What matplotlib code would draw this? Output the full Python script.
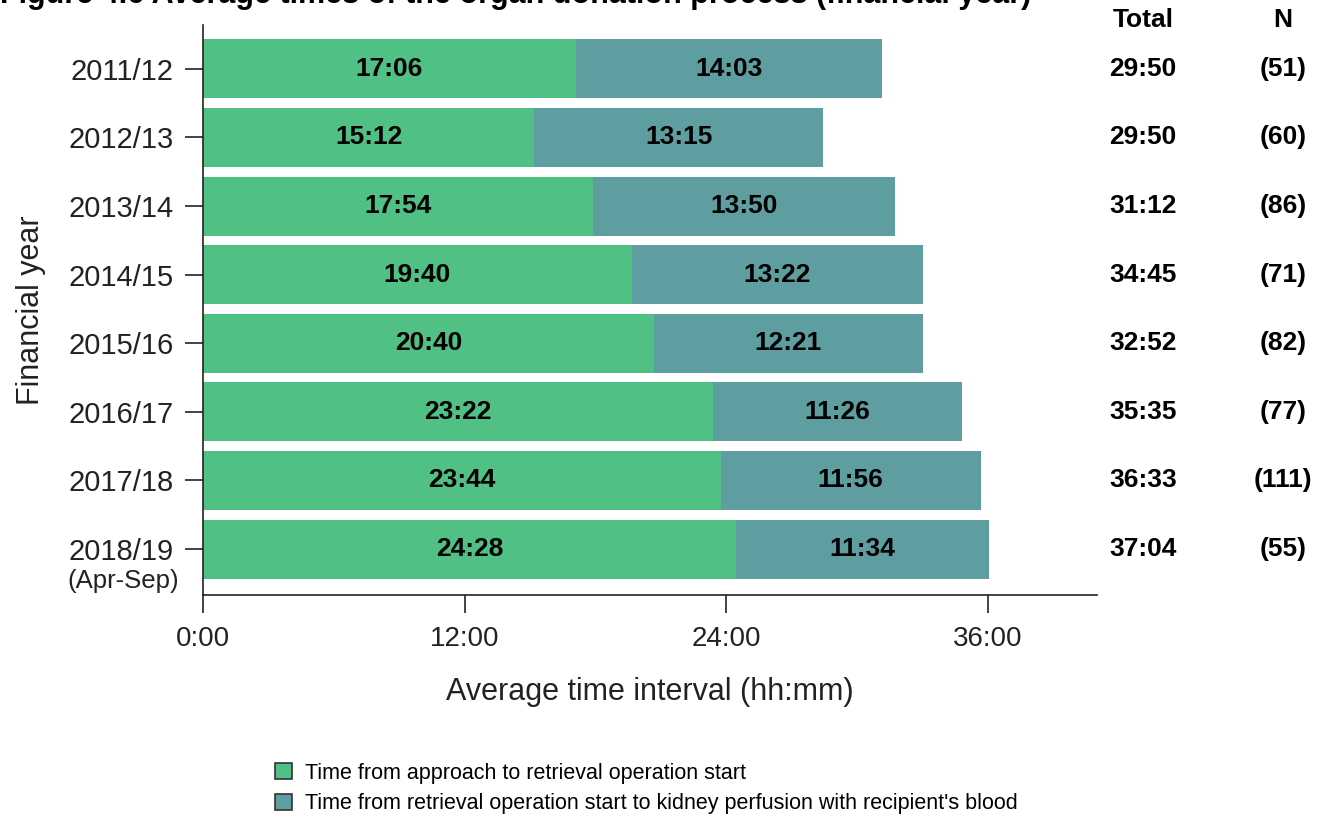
import matplotlib
matplotlib.use('Agg')
import matplotlib.pyplot as plt
from matplotlib.patches import Patch
import numpy as np

# Data (hh:mm)
years = ['2011/12', '2012/13', '2013/14', '2014/15', '2015/16', '2016/17', '2017/18', '2018/19\n(Apr-Sep)']
approach = ['17:06', '15:12', '17:54', '19:40', '20:40', '23:22', '23:44', '24:28']
perfusion = ['14:03', '13:15', '13:50', '13:22', '12:21', '11:26', '11:56', '11:34']
totals = ['29:50', '29:50', '31:12', '34:45', '32:52', '35:35', '36:33', '37:04']
counts = [51, 60, 86, 71, 82, 77, 111, 55]
xticks = [0, 12, 24, 36]

C_GREEN = '#50C084'
C_TEAL = '#5F9EA0'
INK = '#222222'
NARROW = ['Liberation Sans Narrow', 'Liberation Sans', 'DejaVu Sans']
plt.rcParams['font.family'] = ['Liberation Sans', 'DejaVu Sans']


def hours(s):
    h, m = s.split(':')
    return int(h) + int(m) / 60


a = np.array([hours(s) for s in approach])
p = np.array([hours(s) for s in perfusion])
y = np.arange(len(years))

fig = plt.figure(figsize=(13.22, 8.18), dpi=100)
ax = fig.add_axes([203 / 1322, 1 - 595 / 818, 894 / 1322, 570 / 818])

ax.barh(y, a, height=0.86, color=C_GREEN)
ax.barh(y, p, left=a, height=0.86, color=C_TEAL)

for i in range(len(years)):
    ax.text(a[i] / 2, y[i], approach[i], ha='center', va='center',
            fontsize=19, fontweight='bold', family=NARROW)
    ax.text(a[i] + p[i] / 2, y[i], perfusion[i], ha='center', va='center',
            fontsize=19, fontweight='bold', family=NARROW)

# Total and N columns to the right
tr = ax.get_yaxis_transform()
col_kw = dict(transform=tr, ha='center', va='center', fontsize=19,
              fontweight='bold', family=NARROW, clip_on=False)
ax.text(1.0515, -0.72, 'Total', **col_kw)
ax.text(1.208, -0.72, 'N', **col_kw)
for i in range(len(years)):
    ax.text(1.0515, y[i], totals[i], **col_kw)
    ax.text(1.208, y[i], f'({counts[i]})', **col_kw)

ax.set_xlim(0, 41)
ax.set_ylim(7.67, -0.64)
ax.set_xticks(xticks)
ax.set_xticklabels([f'{h}:00' for h in xticks], fontsize=20, color=INK)
ax.set_yticks(y)
ax.set_yticklabels([s.split('\n')[0] for s in years], fontsize=21, color=INK)
# second line of the last year label sits under the tick label
for i, s in enumerate(years):
    if '\n' in s:
        ax.text(-0.0265, y[i] + 0.46, s.split('\n')[1], transform=tr,
                ha='right', va='center', fontsize=18.5, color=INK, clip_on=False)
ax.tick_params(axis='both', length=13, width=1.2, color=INK)
ax.tick_params(axis='y', pad=8)
ax.tick_params(axis='x', pad=9)
for s in ['top', 'right']:
    ax.spines[s].set_visible(False)
for s in ['left', 'bottom']:
    ax.spines[s].set_linewidth(1.2)
    ax.spines[s].set_color(INK)

ax.set_xlabel('Average time interval (hh:mm)', fontsize=22, color=INK, labelpad=18)
ax.set_ylabel('Financial year', fontsize=22, color=INK, labelpad=16)

# Title, clipped at the top edge as in the source
fig.text(0.0, 1 - 3 / 818, 'Figure 4.6 Average times of the organ donation process (financial year)',
         ha='left', va='baseline', fontsize=22, fontweight='bold', family=NARROW)

handles = [Patch(facecolor=C_GREEN, edgecolor='#333333', linewidth=1.2),
           Patch(facecolor=C_TEAL, edgecolor='#333333', linewidth=1.2)]
labels = ['Time from approach to retrieval operation start',
          "Time from retrieval operation start to kidney perfusion with recipient's blood"]
fig.legend(handles, labels, loc='upper left', bbox_to_anchor=(266 / 1322, 1 - 754 / 818),
           frameon=False, handlelength=0.8, handleheight=0.8,
           handletextpad=0.6, labelspacing=0.45, borderaxespad=0,
           prop={'family': NARROW, 'size': 15.5})

fig.savefig('out.png', dpi=100)
